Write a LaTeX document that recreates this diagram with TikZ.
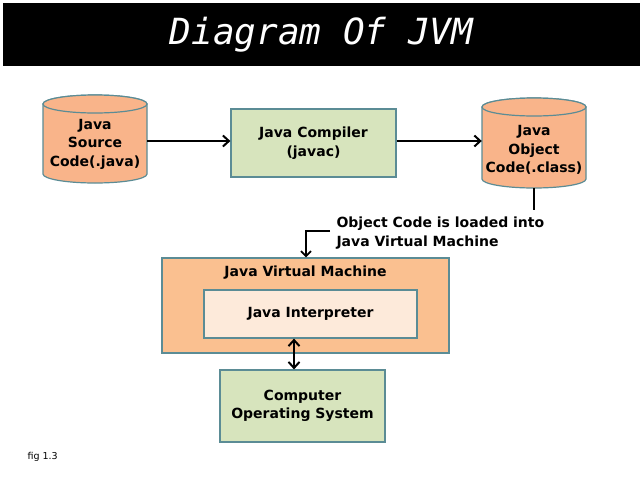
\documentclass[tikz,border=0pt]{standalone}
\usepackage{fontspec}
\setmainfont{DejaVu Sans}
\newfontfamily\titlefont{DejaVu Sans Mono}
\usetikzlibrary{arrows.meta,positioning}
\definecolor{edgeteal}{HTML}{5B8C95}
\definecolor{cylfill}{HTML}{F9B48A}
\definecolor{greenfill}{HTML}{D7E4BD}
\definecolor{jvmfill}{HTML}{FAC090}
\definecolor{interpfill}{HTML}{FDEADA}
\tikzset{
  x=1pt,y=-1pt,
  every node/.style={font=\bfseries\fontsize{14}{18.5}\selectfont, align=center, text=black},
  cylline/.style={draw=edgeteal, line width=1.2pt, fill=cylfill},
  greenbox/.style={rectangle, draw=edgeteal, line width=1.2pt, fill=greenfill},
  conn/.style={line width=2pt, -{Straight Barb[length=6pt,width=11pt]}},
}
\newcommand{\cylbody}[3]{% cx, top, bottom
  \draw[cylline] (#1-52,#2+9) -- (#1-52,#3-9)
    arc[start angle=180,end angle=360,x radius=52pt,y radius=9pt]
    -- (#1+52,#2+9)
    arc[start angle=0,end angle=180,x radius=52pt,y radius=9pt] -- cycle;
  \draw[cylline] (#1,#2+9) ellipse[x radius=52pt,y radius=9pt];
}
\begin{document}
\begin{tikzpicture}
\useasboundingbox (0,0) rectangle (644,477);
\fill[white] (0,0) rectangle (644,477);
% title
\node[fill=black, minimum width=637pt, minimum height=63pt, inner sep=0pt,
  font=\titlefont\itshape\fontsize{36}{40}\selectfont, text=white] (title) at (321.5,34.5) {Diagram Of JVM};
% source cylinder
\cylbody{95}{95}{183}
\node[minimum width=104pt, minimum height=88pt, inner sep=0pt] (src) at (95,139) {};
\node (srct) at (95,144) {Java\\Source\\Code(.java)};
% compiler
\node[greenbox, minimum width=165pt, minimum height=68pt] (comp) at (313.5,143) {Java Compiler\\(javac)};
% object cylinder
\cylbody{534}{98}{188}
\node[minimum width=104pt, minimum height=90pt, inner sep=0pt] (obj) at (534,143) {};
\node (objt) at (534,150) {Java\\Object\\Code(.class)};
\draw[conn] (src.east |- 0,141) -- (comp.west |- 0,141);
\draw[conn] (comp.east |- 0,141) -- (obj.west |- 0,141);
% JVM
\node[rectangle, draw=edgeteal, line width=1.2pt, fill=jvmfill, minimum width=287pt, minimum height=95pt] (jvm) at (305.5,305.5) {};
\node (jvmt) at (305.5,273) {Java Virtual Machine};
\node[rectangle, draw=edgeteal, line width=1.2pt, fill=interpfill, minimum width=213pt, minimum height=48pt] (interp) at (310.5,314) {Java Interpreter};
% OS
\node[greenbox, minimum width=165pt, minimum height=72pt] (os) at (302.5,406) {Computer\\Operating System};
\draw[line width=2pt, {Straight Barb[length=6pt,width=11pt]}-{Straight Barb[length=6pt,width=11pt]}] (interp.south -| 294,0) -- (os.north -| 294,0);
% loading annotation
\coordinate (objdrop) at (534,210);
\draw[line width=2pt] (obj.south) -- (objdrop);
\node[anchor=west, align=left] (note) at (333,233) {Object Code is loaded into\\Java Virtual Machine};
\coordinate (elbow) at (306,231);
\draw[line width=1.8pt, -{Straight Barb[length=5pt,width=10pt]}] (330,231) -- (elbow) -- (jvm.north -| elbow);
% fig label
\node[anchor=west, font=\fontsize{9.5}{11}\selectfont] (fig) at (24,457) {fig 1.3};
\end{tikzpicture}
\end{document}
